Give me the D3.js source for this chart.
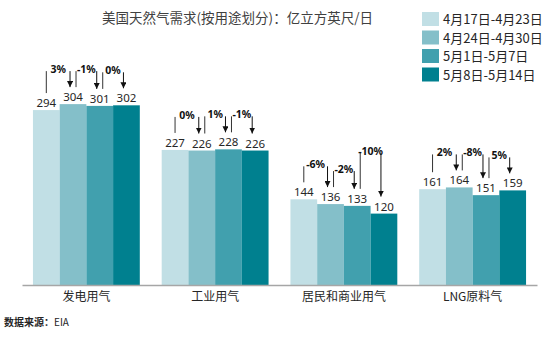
<!DOCTYPE html>
<html>
<head>
<meta charset="utf-8">
<script src="https://cdn.jsdelivr.net/npm/d3@7/dist/d3.min.js"></script>
<style>
  html, body { margin: 0; padding: 0; background: #fff; }
  svg { display: block; }
  text { font-family: "Noto Sans", "Noto Sans CJK SC", sans-serif; }
  .cjk { font-family: "Noto Sans CJK SC", "Noto Sans", sans-serif; }
</style>
</head>
<body>
<svg id="chart" width="554" height="339"></svg>
<script>
// Weekly US natural gas demand by end use (Bcf/d x10)
const categories = ["发电用气", "工业用气", "居民和商业用气", "LNG原料气"];
const periods = ["4月17日-4月23日", "4月24日-4月30日", "5月1日-5月7日", "5月8日-5月14日"];
const week1 = [294, 227, 144, 161];
const week2 = [304, 226, 136, 164];
const week3 = [301, 228, 133, 151];
const week4 = [302, 226, 120, 159];
// week-over-week change labels, per category
const changes = [
  ["3%", "-1%", "0%"],
  ["0%", "1%", "-1%"],
  ["-6%", "-2%", "-10%"],
  ["2%", "-8%", "5%"]
];
const title = "美国天然气需求(按用途划分)：亿立方英尺/日";
const sourceLabel = "数据来源：";
const sourceName = "EIA";

const colors = ["#c1dfe5", "#84bfc9", "#41a0ae", "#00808f"];
const series = [week1, week2, week3, week4];

const svg = d3.select("#chart");

const x0 = d3.scaleBand().domain(categories).range([22, 537]).paddingInner(0.17).paddingOuter(0.085);
const x1 = d3.scaleBand().domain(d3.range(periods.length)).range([0, x0.bandwidth()]);
const y = d3.scaleLinear().domain([0, 400]).range([285, 47]);

// Title
svg.append("text").attr("class", "cjk")
  .attr("x", 102).attr("y", 23)
  .attr("font-size", 13.5).attr("fill", "#404040")
  .text(title);

// Bars and value labels
const groups = svg.append("g").selectAll("g")
  .data(categories).join("g")
  .attr("transform", d => `translate(${x0(d)},0)`);

groups.each(function(cat, ci) {
  const g = d3.select(this);
  const vals = series.map(s => s[ci]);
  g.selectAll("rect").data(vals).join("rect")
    .attr("x", (d, i) => x1(i))
    .attr("y", d => y(d))
    .attr("width", x1.bandwidth())
    .attr("height", d => y(0) - y(d))
    .attr("fill", (d, i) => colors[i]);
  g.selectAll("text.val").data(vals).join("text")
    .attr("class", "val")
    .attr("x", (d, i) => x1(i) + x1.bandwidth() / 2)
    .attr("y", d => y(d) - 3)
    .attr("text-anchor", "middle")
    .attr("font-size", 11.5).attr("fill", "#262626")
    .text(d => d);
});

// Change brackets with arrows
const defs = svg.append("defs");
defs.append("marker").attr("id", "arrow")
  .attr("viewBox", "0 0 10 10").attr("refX", 10).attr("refY", 5)
  .attr("markerUnits", "userSpaceOnUse")
  .attr("markerWidth", 6).attr("markerHeight", 6)
  .attr("orient", "auto")
  .append("path").attr("d", "M0,0 L10,5 L0,10 Z").attr("fill", "#111");

// extra height for brackets raised above their neighbours
const bracketLift = { "2-2": 20 };

const brackets = svg.append("g");
categories.forEach((cat, ci) => {
  const vals = series.map(s => s[ci]);
  const cx = i => x0(cat) + x1(i) + x1.bandwidth() / 2;
  for (let i = 0; i < vals.length - 1; i++) {
    const lift = bracketLift[`${ci}-${i}`] || 0;
    const top = y(Math.max(vals[i], vals[i + 1])) - 33 - lift;
    const xa = cx(i) + (i === 0 ? 0 : 3);
    const xb = cx(i + 1) - 3;
    brackets.append("line")
      .attr("x1", xa).attr("x2", xa)
      .attr("y1", top).attr("y2", y(vals[i]) - 17)
      .attr("stroke", "#333").attr("stroke-width", 1);
    brackets.append("line")
      .attr("x1", xb).attr("x2", xb)
      .attr("y1", top).attr("y2", y(vals[i + 1]) - 17)
      .attr("stroke", "#111").attr("stroke-width", 1)
      .attr("marker-end", "url(#arrow)");
    brackets.append("text")
      .attr("x", (xa + xb) / 2).attr("y", top + 2)
      .attr("text-anchor", "middle")
      .attr("font-size", 10.5).attr("font-weight", "bold").attr("fill", "#111")
      .text(changes[ci][i]);
  }
});

// Category axis
const axis = svg.append("g").attr("transform", `translate(0,${y(0)})`)
  .call(d3.axisBottom(x0).tickSize(0).tickPadding(7));
axis.select(".domain").attr("stroke", "#a6a6a6").attr("stroke-width", 1.5);
axis.selectAll(".tick text")
  .attr("class", "cjk")
  .attr("font-size", 12).attr("fill", "#262626");

// Legend
const legend = svg.append("g").attr("transform", "translate(422,12)");
periods.forEach((p, i) => {
  const row = legend.append("g").attr("transform", `translate(0,${i * 18.5})`);
  row.append("rect").attr("width", 17).attr("height", 14).attr("fill", colors[i]);
  row.append("text").attr("class", "cjk")
    .attr("x", 21).attr("y", 12)
    .attr("font-size", 13).attr("fill", "#262626")
    .text(p);
});

// Source note
const src = svg.append("text").attr("class", "cjk")
  .attr("x", 4).attr("y", 326).attr("font-size", 10).attr("fill", "#262626");
src.append("tspan").attr("font-weight", "bold").text(sourceLabel);
src.append("tspan").text(sourceName);
</script>
</body>
</html>
